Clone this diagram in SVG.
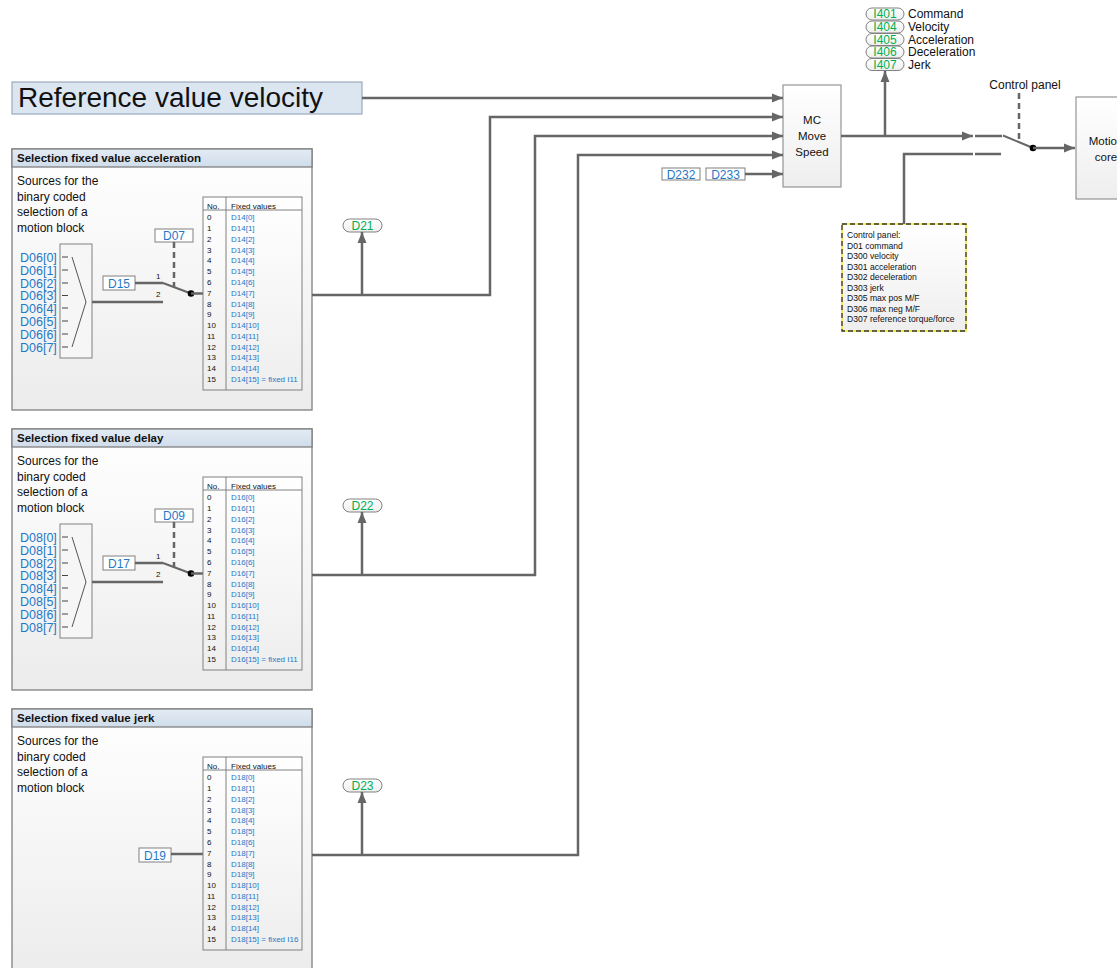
<svg xmlns="http://www.w3.org/2000/svg" width="1117" height="968" viewBox="0 0 1117 968">
<defs>
<linearGradient id="gPanel" x1="0" y1="0" x2="0" y2="1"><stop offset="0" stop-color="#ffffff"/><stop offset="1" stop-color="#ececec"/></linearGradient>
<linearGradient id="gHead" x1="0" y1="0" x2="0" y2="1"><stop offset="0" stop-color="#e4ecf5"/><stop offset="1" stop-color="#cfdcea"/></linearGradient>
<linearGradient id="gBox" x1="0" y1="0" x2="0" y2="1"><stop offset="0" stop-color="#ffffff"/><stop offset="1" stop-color="#eeeeee"/></linearGradient>
<marker id="arr" markerUnits="userSpaceOnUse" markerWidth="12" markerHeight="10" refX="11" refY="5" orient="auto"><path d="M0,0.5 L11,5 L0,9.5 z" fill="#666"/></marker>
</defs>
<style>
text{font-family:"Liberation Sans",Arial,sans-serif;fill:#111}
.panel{fill:url(#gPanel);stroke:#808080;stroke-width:1.3}
.head{fill:url(#gHead);stroke:#808080;stroke-width:1.3}
.ht{font-size:11.5px;font-weight:bold}
.bt{font-size:12px}
.wire{fill:none;stroke:#666;stroke-width:2.5}
.arrow{fill:none;stroke:#666;stroke-width:2.5;marker-end:url(#arr)}
.thin{fill:none;stroke:#555;stroke-width:1}
.tick{fill:none;stroke:#444;stroke-width:1.2}
.dash{fill:none;stroke:#666;stroke-width:2.5;stroke-dasharray:6,4}
.lbl{fill:#fff;stroke:#808080;stroke-width:1}
.blue{fill:#1f78c8}
.green{fill:#00b050}
.pill{fill:url(#gBox);stroke:#808080;stroke-width:1}
.tbl{fill:url(#gBox);stroke:#808080;stroke-width:1}
.tn{font-size:8px}
.tv{font-size:8px;fill:#1f78c8}
.mux{font-size:12.5px;fill:#1f78c8}
.lt{font-size:12px;fill:#1f78c8}
.box{fill:url(#gBox);stroke:#808080;stroke-width:1}
.st{font-size:11.5px}
.cp{font-size:8.6px}
.sm{font-size:8px}
</style>

<g id="title">
<rect x="12" y="82" width="350" height="32" fill="#dce6f1" stroke="#8a9ab0" stroke-width="1"/>
<text x="18" y="107" style="font-size:28px">Reference value velocity</text>
</g>

<!-- Acceleration block -->
<g id="block-acceleration">
<rect class="panel" x="12" y="149" width="300" height="261"/>
<rect class="head" x="12" y="149" width="300" height="18"/>
<text class="ht" x="17" y="162">Selection fixed value acceleration</text>
<text class="bt" x="17" y="185">Sources for the</text>
<text class="bt" x="17" y="200.7">binary coded</text>
<text class="bt" x="17" y="216.3">selection of a</text>
<text class="bt" x="17" y="232">motion block</text>
<g id="mux-acc">
<rect class="box" x="60" y="244" width="32" height="114" style="fill:#f6f6f6"/>
<polyline class="thin" points="72,257 86,302 72,347"/>
<path class="tick" d="M62,257H68M62,270H68M62,283H68M62,295.5H68M62,308H68M62,321H68M62,334H68M62,347H68"/>
<text class="mux" x="20" y="261.5">D06[0]</text>
<text class="mux" x="20" y="274.5">D06[1]</text>
<text class="mux" x="20" y="287.5">D06[2]</text>
<text class="mux" x="20" y="300">D06[3]</text>
<text class="mux" x="20" y="312.5">D06[4]</text>
<text class="mux" x="20" y="325.5">D06[5]</text>
<text class="mux" x="20" y="338.5">D06[6]</text>
<text class="mux" x="20" y="351.5">D06[7]</text>
</g>
<g id="d15"><rect class="lbl" x="103" y="276" width="32" height="14"/><text class="lt" x="119" y="287.5" text-anchor="middle">D15</text></g>
<g id="d07"><rect class="lbl" x="155" y="229" width="38" height="13"/><text class="lt" x="174" y="240" text-anchor="middle">D07</text></g>
<g id="switch-acc">
<path class="wire" d="M135,283H163M92,302H163"/>
<path class="wire" style="stroke-width:2" d="M163,283L191,293.5"/>
<path class="dash" d="M174,242V287"/>
<circle cx="191" cy="293.5" r="3.3" fill="#000"/>
<path class="wire" d="M191,293.5H203"/>
<text class="sm" x="156" y="279">1</text>
<text class="sm" x="156" y="297">2</text>
</g>
<g id="table-acc">
<rect class="tbl" x="203" y="197" width="99" height="193"/>
<path class="thin" style="stroke:#808080" d="M226,197V390M203,210H302"/>
<text class="tn" x="207" y="209">No.</text><text class="tn" x="231" y="209">Fixed values</text>
<text class="tn" x="207" y="220.3">0</text><text class="tv" x="231" y="220.3">D14[0]</text>
<text class="tn" x="207" y="231.1">1</text><text class="tv" x="231" y="231.1">D14[1]</text>
<text class="tn" x="207" y="241.9">2</text><text class="tv" x="231" y="241.9">D14[2]</text>
<text class="tn" x="207" y="252.6">3</text><text class="tv" x="231" y="252.6">D14[3]</text>
<text class="tn" x="207" y="263.4">4</text><text class="tv" x="231" y="263.4">D14[4]</text>
<text class="tn" x="207" y="274.2">5</text><text class="tv" x="231" y="274.2">D14[5]</text>
<text class="tn" x="207" y="285">6</text><text class="tv" x="231" y="285">D14[6]</text>
<text class="tn" x="207" y="295.8">7</text><text class="tv" x="231" y="295.8">D14[7]</text>
<text class="tn" x="207" y="306.5">8</text><text class="tv" x="231" y="306.5">D14[8]</text>
<text class="tn" x="207" y="317.3">9</text><text class="tv" x="231" y="317.3">D14[9]</text>
<text class="tn" x="207" y="328.1">10</text><text class="tv" x="231" y="328.1">D14[10]</text>
<text class="tn" x="207" y="338.9">11</text><text class="tv" x="231" y="338.9">D14[11]</text>
<text class="tn" x="207" y="349.7">12</text><text class="tv" x="231" y="349.7">D14[12]</text>
<text class="tn" x="207" y="360.4">13</text><text class="tv" x="231" y="360.4">D14[13]</text>
<text class="tn" x="207" y="371.2">14</text><text class="tv" x="231" y="371.2">D14[14]</text>
<text class="tn" x="207" y="382">15</text><text class="tv" x="231" y="382">D14[15] = fixed I11</text>
</g>
<g id="d21"><rect class="pill" x="343" y="219" width="39" height="13" rx="6.5"/><text class="green" x="362.5" y="229.8" text-anchor="middle" style="font-size:12px">D21</text></g>
</g>

<!-- Delay block -->
<g id="block-delay" transform="translate(0,280)">
<rect class="panel" x="12" y="149" width="300" height="261"/>
<rect class="head" x="12" y="149" width="300" height="18"/>
<text class="ht" x="17" y="162">Selection fixed value delay</text>
<text class="bt" x="17" y="185">Sources for the</text>
<text class="bt" x="17" y="200.7">binary coded</text>
<text class="bt" x="17" y="216.3">selection of a</text>
<text class="bt" x="17" y="232">motion block</text>
<g id="mux-delay">
<rect class="box" x="60" y="244" width="32" height="114" style="fill:#f6f6f6"/>
<polyline class="thin" points="72,257 86,302 72,347"/>
<path class="tick" d="M62,257H68M62,270H68M62,283H68M62,295.5H68M62,308H68M62,321H68M62,334H68M62,347H68"/>
<text class="mux" x="20" y="261.5">D08[0]</text>
<text class="mux" x="20" y="274.5">D08[1]</text>
<text class="mux" x="20" y="287.5">D08[2]</text>
<text class="mux" x="20" y="300">D08[3]</text>
<text class="mux" x="20" y="312.5">D08[4]</text>
<text class="mux" x="20" y="325.5">D08[5]</text>
<text class="mux" x="20" y="338.5">D08[6]</text>
<text class="mux" x="20" y="351.5">D08[7]</text>
</g>
<g id="d17"><rect class="lbl" x="103" y="276" width="32" height="14"/><text class="lt" x="119" y="287.5" text-anchor="middle">D17</text></g>
<g id="d09"><rect class="lbl" x="155" y="229" width="38" height="13"/><text class="lt" x="174" y="240" text-anchor="middle">D09</text></g>
<g id="switch-delay">
<path class="wire" d="M135,283H163M92,302H163"/>
<path class="wire" style="stroke-width:2" d="M163,283L191,293.5"/>
<path class="dash" d="M174,242V287"/>
<circle cx="191" cy="293.5" r="3.3" fill="#000"/>
<path class="wire" d="M191,293.5H203"/>
<text class="sm" x="156" y="279">1</text>
<text class="sm" x="156" y="297">2</text>
</g>
<g id="table-delay">
<rect class="tbl" x="203" y="197" width="99" height="193"/>
<path class="thin" style="stroke:#808080" d="M226,197V390M203,210H302"/>
<text class="tn" x="207" y="209">No.</text><text class="tn" x="231" y="209">Fixed values</text>
<text class="tn" x="207" y="220.3">0</text><text class="tv" x="231" y="220.3">D16[0]</text>
<text class="tn" x="207" y="231.1">1</text><text class="tv" x="231" y="231.1">D16[1]</text>
<text class="tn" x="207" y="241.9">2</text><text class="tv" x="231" y="241.9">D16[2]</text>
<text class="tn" x="207" y="252.6">3</text><text class="tv" x="231" y="252.6">D16[3]</text>
<text class="tn" x="207" y="263.4">4</text><text class="tv" x="231" y="263.4">D16[4]</text>
<text class="tn" x="207" y="274.2">5</text><text class="tv" x="231" y="274.2">D16[5]</text>
<text class="tn" x="207" y="285">6</text><text class="tv" x="231" y="285">D16[6]</text>
<text class="tn" x="207" y="295.8">7</text><text class="tv" x="231" y="295.8">D16[7]</text>
<text class="tn" x="207" y="306.5">8</text><text class="tv" x="231" y="306.5">D16[8]</text>
<text class="tn" x="207" y="317.3">9</text><text class="tv" x="231" y="317.3">D16[9]</text>
<text class="tn" x="207" y="328.1">10</text><text class="tv" x="231" y="328.1">D16[10]</text>
<text class="tn" x="207" y="338.9">11</text><text class="tv" x="231" y="338.9">D16[11]</text>
<text class="tn" x="207" y="349.7">12</text><text class="tv" x="231" y="349.7">D16[12]</text>
<text class="tn" x="207" y="360.4">13</text><text class="tv" x="231" y="360.4">D16[13]</text>
<text class="tn" x="207" y="371.2">14</text><text class="tv" x="231" y="371.2">D16[14]</text>
<text class="tn" x="207" y="382">15</text><text class="tv" x="231" y="382">D16[15] = fixed I11</text>
</g>
<g id="d22"><rect class="pill" x="343" y="219" width="39" height="13" rx="6.5"/><text class="green" x="362.5" y="229.8" text-anchor="middle" style="font-size:12px">D22</text></g>
</g>

<!-- Jerk block -->
<g id="block-jerk" transform="translate(0,560)">
<rect class="panel" x="12" y="149" width="300" height="270"/>
<rect class="head" x="12" y="149" width="300" height="18"/>
<text class="ht" x="17" y="162">Selection fixed value jerk</text>
<text class="bt" x="17" y="185">Sources for the</text>
<text class="bt" x="17" y="200.7">binary coded</text>
<text class="bt" x="17" y="216.3">selection of a</text>
<text class="bt" x="17" y="232">motion block</text>
<g id="d19"><rect class="lbl" x="139" y="288" width="32" height="14"/><text class="lt" x="155" y="299.5" text-anchor="middle">D19</text></g>
<path class="wire" d="M171,294H203"/>
<g id="table-jerk">
<rect class="tbl" x="203" y="197" width="99" height="193"/>
<path class="thin" style="stroke:#808080" d="M226,197V390M203,210H302"/>
<text class="tn" x="207" y="209">No.</text><text class="tn" x="231" y="209">Fixed values</text>
<text class="tn" x="207" y="220.3">0</text><text class="tv" x="231" y="220.3">D18[0]</text>
<text class="tn" x="207" y="231.1">1</text><text class="tv" x="231" y="231.1">D18[1]</text>
<text class="tn" x="207" y="241.9">2</text><text class="tv" x="231" y="241.9">D18[2]</text>
<text class="tn" x="207" y="252.6">3</text><text class="tv" x="231" y="252.6">D18[3]</text>
<text class="tn" x="207" y="263.4">4</text><text class="tv" x="231" y="263.4">D18[4]</text>
<text class="tn" x="207" y="274.2">5</text><text class="tv" x="231" y="274.2">D18[5]</text>
<text class="tn" x="207" y="285">6</text><text class="tv" x="231" y="285">D18[6]</text>
<text class="tn" x="207" y="295.8">7</text><text class="tv" x="231" y="295.8">D18[7]</text>
<text class="tn" x="207" y="306.5">8</text><text class="tv" x="231" y="306.5">D18[8]</text>
<text class="tn" x="207" y="317.3">9</text><text class="tv" x="231" y="317.3">D18[9]</text>
<text class="tn" x="207" y="328.1">10</text><text class="tv" x="231" y="328.1">D18[10]</text>
<text class="tn" x="207" y="338.9">11</text><text class="tv" x="231" y="338.9">D18[11]</text>
<text class="tn" x="207" y="349.7">12</text><text class="tv" x="231" y="349.7">D18[12]</text>
<text class="tn" x="207" y="360.4">13</text><text class="tv" x="231" y="360.4">D18[13]</text>
<text class="tn" x="207" y="371.2">14</text><text class="tv" x="231" y="371.2">D18[14]</text>
<text class="tn" x="207" y="382">15</text><text class="tv" x="231" y="382">D18[15] = fixed I16</text>
</g>
<g id="d23"><rect class="pill" x="343" y="219" width="39" height="13" rx="6.5"/><text class="green" x="362.5" y="229.8" text-anchor="middle" style="font-size:12px">D23</text></g>
</g>

<!-- MC Move Speed -->
<g id="mc-move-speed">
<rect class="box" x="783" y="85" width="58" height="102"/>
<text class="st" x="812" y="124" text-anchor="middle">MC</text>
<text class="st" x="812" y="140" text-anchor="middle">Move</text>
<text class="st" x="812" y="156" text-anchor="middle">Speed</text>
</g>
<g id="d232"><rect class="lbl" x="662" y="168" width="38" height="12"/><text class="lt" x="681" y="178.5" text-anchor="middle">D232</text></g>
<g id="d233"><rect class="lbl" x="706" y="168" width="39" height="12"/><text class="lt" x="725.5" y="178.5" text-anchor="middle">D233</text></g>

<!-- Outputs I401.. -->
<g id="outputs">
<rect class="pill" x="866" y="8" width="38" height="12" rx="6"/><text class="green" x="885" y="18.3" text-anchor="middle" style="font-size:12px">I401</text><text x="908" y="18.3" style="font-size:12px">Command</text>
<rect class="pill" x="866" y="21" width="38" height="12" rx="6"/><text class="green" x="885" y="31" text-anchor="middle" style="font-size:12px">I404</text><text x="908" y="31" style="font-size:12px">Velocity</text>
<rect class="pill" x="866" y="33.5" width="38" height="12" rx="6"/><text class="green" x="885" y="43.7" text-anchor="middle" style="font-size:12px">I405</text><text x="908" y="43.7" style="font-size:12px">Acceleration</text>
<rect class="pill" x="866" y="46" width="38" height="12" rx="6"/><text class="green" x="885" y="56.3" text-anchor="middle" style="font-size:12px">I406</text><text x="908" y="56.3" style="font-size:12px">Deceleration</text>
<rect class="pill" x="866" y="58.5" width="38" height="12" rx="6"/><text class="green" x="885" y="68.5" text-anchor="middle" style="font-size:12px">I407</text><text x="908" y="68.5" style="font-size:12px">Jerk</text>
</g>

<!-- Control panel switch -->
<g id="control-panel-switch">
<text x="1025" y="88.5" text-anchor="middle" style="font-size:12px">Control panel</text>
<path class="dash" d="M1019,93V143"/>
<path class="wire" style="stroke-width:2" d="M1003,135.5L1033,148"/>
<circle cx="1033" cy="148" r="3.3" fill="#000"/>
</g>

<g id="motion-core">
<rect class="box" x="1076" y="97" width="60" height="102"/>
<text class="st" x="1106" y="145" text-anchor="middle">Motion</text>
<text class="st" x="1106" y="161" text-anchor="middle">core</text>
</g>

<g id="control-panel-box">
<rect x="842" y="224" width="124" height="107" fill="url(#gBox)" stroke="#f5e400" stroke-width="1.3"/>
<rect x="842" y="224" width="124" height="107" fill="none" stroke="#333" stroke-width="1.3" stroke-dasharray="5,3"/>
<text class="cp" x="847" y="238">Control panel:</text>
<text class="cp" x="847" y="248.5">D01 command</text>
<text class="cp" x="847" y="259">D300 velocity</text>
<text class="cp" x="847" y="269.5">D301 acceleration</text>
<text class="cp" x="847" y="280">D302 deceleration</text>
<text class="cp" x="847" y="290.5">D303 jerk</text>
<text class="cp" x="847" y="301">D305 max pos M/F</text>
<text class="cp" x="847" y="311.5">D306 max neg M/F</text>
<text class="cp" x="847" y="322">D307 reference torque/force</text>
</g>

<g id="connectors">
<path class="arrow" d="M362,98H783"/>
<path class="arrow" d="M312,295H490V117H783"/>
<path class="arrow" d="M312,575H535V136H783"/>
<path class="arrow" d="M312,855H578V155H783"/>
<path class="arrow" d="M745,174H783"/>
<path class="arrow" d="M362,295V232"/>
<path class="arrow" d="M362,575V512"/>
<path class="arrow" d="M362,855V792"/>
<path class="arrow" d="M841,136H973"/>
<path class="arrow" d="M885,136V71"/>
<path class="wire" d="M975,136H1002"/>
<path class="wire" d="M904,224V154H973M975,154H1001"/>
<path class="arrow" d="M1033,148H1075"/>
</g>
</svg>
